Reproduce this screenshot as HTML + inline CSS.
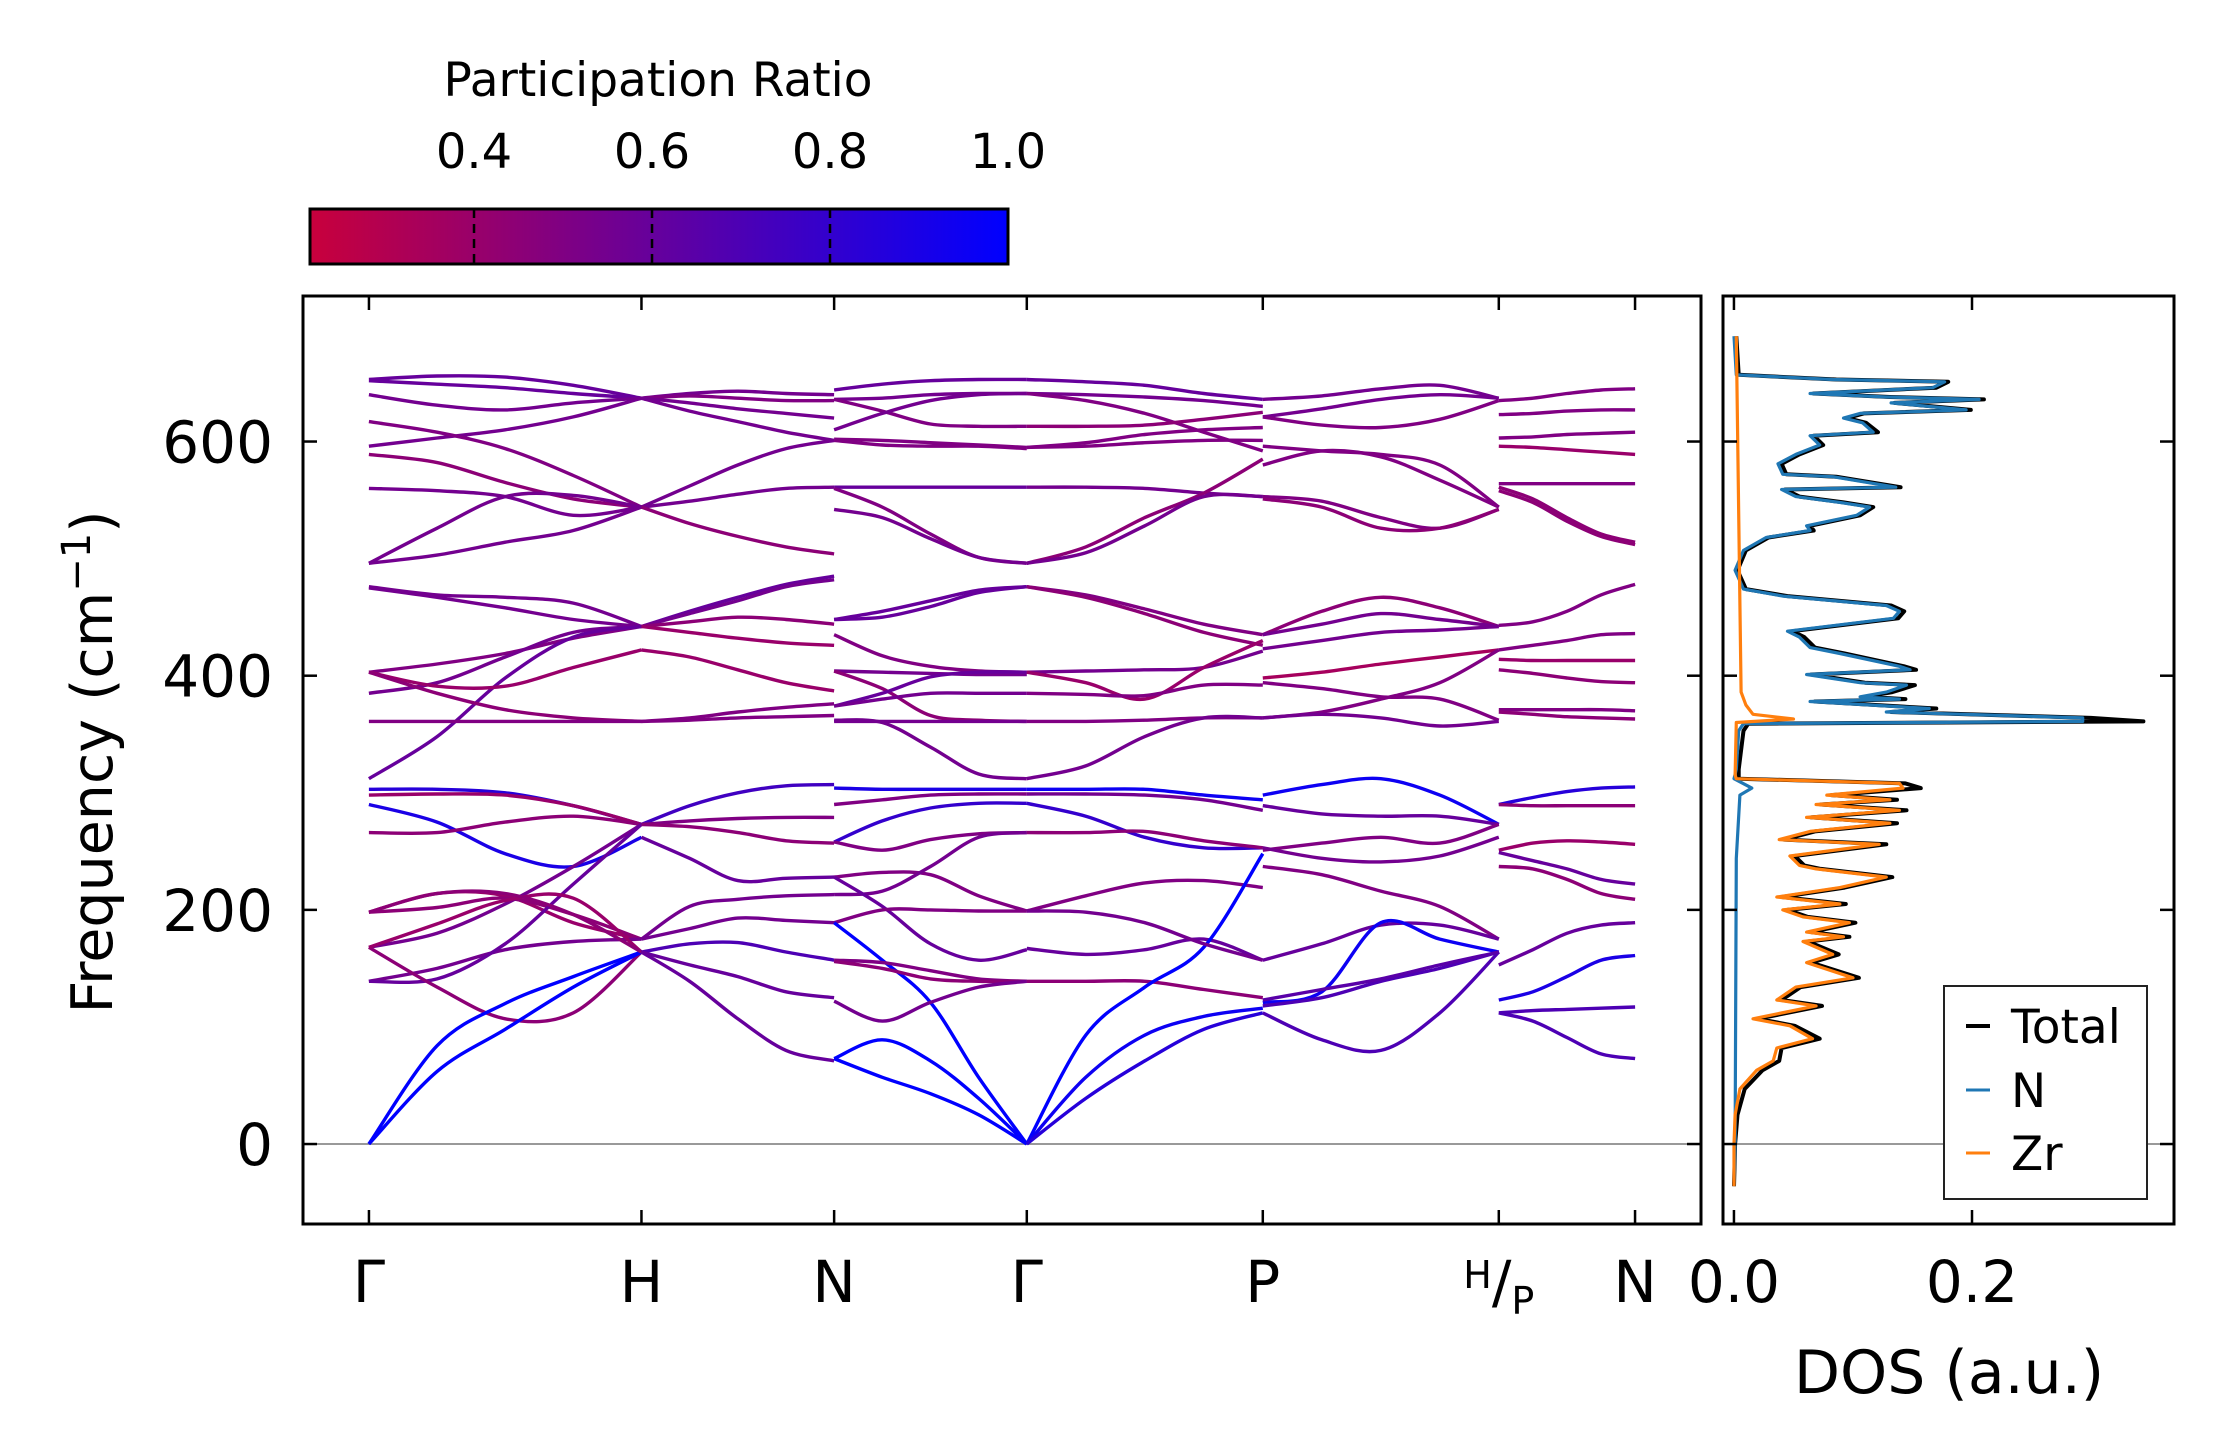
<!DOCTYPE html>
<html><head><meta charset="utf-8">
<style>
html,body{margin:0;padding:0;background:#fff;}
svg{display:block;font-family:"DejaVu Sans","Liberation Sans",sans-serif;}
</style></head>
<body>
<svg id="chart" width="2222" height="1455" viewBox="0 0 2222 1455" xmlns="http://www.w3.org/2000/svg">
  <rect x="0" y="0" width="2222" height="1455" fill="#fff"/>
  <defs>
    <linearGradient id="cbgrad" x1="0" x2="1" y1="0" y2="0">
      <stop offset="0" stop-color="rgb(200,0,60)"/>
      <stop offset="1" stop-color="rgb(0,0,255)"/>
    </linearGradient>
    <clipPath id="mainclip"><rect x="303" y="296" width="1398" height="928"/></clipPath>
    <clipPath id="dosclip"><rect x="1723" y="296" width="451" height="928"/></clipPath>
  </defs>
  <g id="colorbar">
    <text x="658" y="96" font-size="47" text-anchor="middle">Participation Ratio</text>
    <rect x="310" y="209" width="698" height="55" fill="url(#cbgrad)" stroke="#000" stroke-width="3"/>
  </g>
  <g id="bands" clip-path="url(#mainclip)"></g>
  <g id="dos" clip-path="url(#dosclip)"></g>
  <g id="axes"></g>
  <g id="legend">
    <rect x="1944" y="986" width="203" height="213" fill="#fff" stroke="#222" stroke-width="2"/>
    <line x1="1966" y1="1026" x2="1990" y2="1026" stroke="#000" stroke-width="4"/>
    <text x="2011" y="1043" font-size="47">Total</text>
    <line x1="1966" y1="1090" x2="1990" y2="1090" stroke="#1f77b4" stroke-width="3"/>
    <text x="2011" y="1107" font-size="47">N</text>
    <line x1="1966" y1="1153" x2="1990" y2="1153" stroke="#ff7f0e" stroke-width="3"/>
    <text x="2011" y="1170" font-size="47">Zr</text>
  </g>
</svg>
<script>
// ---------- data ----------
const kTicks = [0, 1, 1.707, 2.414, 3.280, 4.146, 4.646];
const kLabels = ["Γ", "H", "N", "Γ", "P", "H/P", "N"];
const yTicks = [0, 200, 400, 600];
const cbTicks = [0.4, 0.6, 0.8, 1.0];
const dosTicks = [0.0, 0.2];
const segRanges = [[0,1],[1,1.707],[1.707,2.414],[2.414,3.280],[3.280,4.146],[4.146,4.646]];
const bandsGH = [
[653,656,655,648,637],[652,649,646,641,637],[640,631,627,633,637],[596,603,610,621,637],
[617,608,594,571,544],[589,582,565,551,544],[560,558,553,537,544],[496,526,553,554,544],
[496,503,514,524,544],[476,469,467,462,442],[475,467,458,448,442],[403,410,419,432,442],
[385,394,416,437,442],[312,348,398,433,442],[403,391,391,407,422],[403,385,371,364,361],
[361,361,361,361,361],[303,303,300,289,273],[298,299,298,289,273],[290,275,248,237,262],
[266,266,275,280,273],[198,214,212,189,175],[198,202,210,196,175],[168,180,205,237,273],
[139,150,166,173,175],[139,141,171,222,273],[168,134,107,112,164],[0,84,120,143,164],
[0,62,98,134,164],[168,188,208,210,164],[198,214,214,196,164]];
const prGH = [0.6,0.6,0.55,0.55,0.5,0.45,0.55,0.55,0.55,0.55,0.55,0.5,0.55,0.6,0.4,0.45,0.5,0.85,0.4,0.9,0.45,0.4,0.45,0.55,0.55,0.6,0.45,1.0,1.0,0.4,0.45];
const bandsHN = [
[637,641,643,641,640],[637,639,637,635,635],[637,633,628,624,620],[637,626,617,608,601],
[544,562,580,594,601],[544,549,555,560,561],[544,530,519,510,504],[442,455,467,478,485],
[442,453,464,476,482],[442,446,450,448,444],[442,437,432,428,426],[422,416,405,394,387],
[361,364,369,373,376],[361,362,364,365,366],[273,289,300,306,307],[273,276,278,279,279],
[273,271,266,259,257],[262,244,225,227,228],[175,203,209,212,213],[175,184,193,191,189],
[164,171,172,164,157],[164,153,143,130,125],[164,139,107,80,71]];
const prHN = [0.55,0.5,0.55,0.55,0.55,0.55,0.45,0.6,0.55,0.45,0.4,0.4,0.5,0.5,0.75,0.5,0.45,0.6,0.55,0.55,0.7,0.6,0.6];
const bandsNG = [
[644,649,652,653,653],[636,637,640,641,641],[636,626,615,613,613],[610,624,635,640,641],
[602,601,599,597,595],[601,597,596,596,594],[561,561,561,561,561],[560,544,521,501,496],
[542,535,517,501,496],[448,455,464,473,476],[448,450,459,471,476],[435,417,408,404,403],
[404,403,402,401,401],[404,389,366,362,361],[374,385,399,403,403],[374,380,385,385,385],
[362,360,339,316,312],[361,361,361,361,361],[304,303,303,303,303],[290,294,298,299,299],
[258,276,287,291,291],[258,251,260,265,266],[228,232,230,212,199],[213,216,237,262,266],
[228,203,171,157,166],[189,200,200,199,199],[189,157,121,57,0],[157,155,148,141,139],
[156,150,141,139,139],[122,105,121,134,139],[73,89,71,39,0],[73,57,43,25,0]];
const prNG = [0.6,0.55,0.5,0.55,0.5,0.5,0.6,0.5,0.55,0.6,0.6,0.5,0.55,0.45,0.6,0.55,0.55,0.55,0.9,0.5,0.8,0.5,0.5,0.55,0.6,0.5,1.0,0.5,0.45,0.55,1.0,1.0];
const bandsGP = [
[653,651,648,641,636],[641,640,638,635,630],[641,635,624,608,592],[613,613,614,619,625],
[595,599,606,610,612],[595,596,599,601,601],[561,561,560,556,553],[496,510,535,556,585],
[496,505,528,553,553],[476,469,457,444,435],[476,467,453,437,426],[403,404,405,407,421],
[403,394,380,407,430],[385,384,383,392,392],[361,361,362,364,364],[312,323,348,364,364],
[303,303,303,298,294],[299,299,298,294,285],[291,280,262,253,253],[266,266,267,259,253],
[199,212,223,225,219],[167,162,166,175,157],[139,139,139,132,125],[0,93,134,168,248],
[0,57,93,109,116],[0,39,71,98,112],[199,198,189,171,157]];
const prGP = [0.6,0.55,0.5,0.45,0.5,0.5,0.55,0.45,0.55,0.5,0.45,0.55,0.4,0.5,0.5,0.55,0.95,0.55,0.8,0.45,0.5,0.6,0.45,1.0,0.95,0.85,0.55];
const bandsPH = [
[636,639,645,648,637],[621,628,636,640,637],[621,614,612,619,635],[596,592,589,580,544],
[580,592,587,567,544],[553,549,535,526,542],[551,544,526,526,542],[435,455,467,458,442],
[435,444,453,448,442],[423,430,437,439,442],[398,403,410,416,422],[394,389,382,380,362],
[364,369,380,394,422],[364,367,364,357,361],[298,307,312,298,273],[289,282,280,280,273],
[251,257,262,257,273],[253,244,241,246,262],[237,230,216,203,175],[157,171,187,187,175],
[121,130,189,175,164],[118,125,139,150,164],[112,89,80,112,164],[123,132,141,153,164]];
const prPH = [0.55,0.55,0.5,0.5,0.5,0.5,0.45,0.45,0.55,0.55,0.35,0.5,0.5,0.55,0.95,0.6,0.5,0.55,0.5,0.6,0.95,0.7,0.7,0.65];
const bandsPN = [
[635,637,641,644,645],[623,624,626,627,627],[603,604,606,607,608],[596,595,593,591,589],
[564,564,564,564,564],[561,551,535,521,514],[558,548,532,519,512],[443,446,455,469,478],
[422,426,430,435,436],[414,413,413,413,413],[405,402,398,395,394],[371,371,371,371,370],
[369,367,365,364,363],[290,296,301,304,305],[290,289,289,289,289],[251,257,259,258,256],
[249,242,235,226,222],[237,235,226,214,209],[153,166,180,187,189],[123,130,143,157,161],
[112,114,115,116,117],[112,105,91,77,73]];
const prPN = [0.5,0.5,0.5,0.4,0.5,0.45,0.45,0.5,0.5,0.4,0.45,0.5,0.45,0.85,0.45,0.4,0.6,0.45,0.6,0.9,0.7,0.7];
const dosNFreq = [-36,0,244,298,304,312,320,353,359,361,364,369,372,378,380,382,386,392,394,401,405,408,419,424,433,438,449,455,460,468,474,490,507,518,524,528,537,544,548,553,559,561,570,572,581,589,597,605,608,616,620,624,627,633,636,638,641,646,651,653,657,690];
const dosNVal  = [0,0.001,0.002,0.005,0.015,0.0,0.002,0.004,0.008,0.293,0.293,0.128,0.164,0.064,0.139,0.106,0.128,0.145,0.106,0.061,0.148,0.139,0.089,0.064,0.055,0.045,0.134,0.139,0.128,0.041,0.008,0.001,0.008,0.027,0.064,0.061,0.103,0.114,0.089,0.052,0.040,0.136,0.083,0.041,0.037,0.052,0.072,0.064,0.117,0.108,0.092,0.106,0.195,0.132,0.206,0.128,0.064,0.167,0.177,0.083,0.002,0.0];
const dosZrFreq = [-36,0,25,47,63,71,82,90,101,107,118,123,134,142,155,162,173,177,181,189,194,200,205,211,219,228,235,238,246,256,260,267,274,279,285,290,294,298,304,308,312,315,360,363,367,375,386,690];
const dosZrVal  = [0,0,0.001,0.005,0.019,0.033,0.036,0.066,0.047,0.016,0.069,0.036,0.052,0.100,0.061,0.083,0.058,0.092,0.061,0.097,0.058,0.041,0.089,0.036,0.089,0.128,0.069,0.055,0.047,0.122,0.038,0.064,0.131,0.061,0.139,0.069,0.131,0.078,0.142,0.139,0.002,0.001,0.002,0.050,0.016,0.010,0.006,0.002];
const dosTotFreq = [-36,0,25,47,63,71,82,90,101,107,118,123,134,142,155,162,173,177,181,189,194,200,205,211,219,228,235,238,246,256,260,267,274,279,285,290,294,298,304,308,312,320,353,359,361,364,369,372,378,380,382,386,392,394,401,405,408,419,424,433,438,449,455,460,468,474,490,507,518,524,528,537,544,548,553,559,561,570,572,581,589,597,605,608,616,620,624,627,633,636,638,641,646,651,653,657,690];
const dosTotVal  = [0,0.001,0.003,0.009,0.024,0.038,0.040,0.072,0.051,0.020,0.074,0.040,0.056,0.105,0.065,0.088,0.062,0.097,0.065,0.102,0.062,0.045,0.094,0.040,0.093,0.133,0.073,0.059,0.051,0.128,0.042,0.068,0.137,0.065,0.145,0.073,0.137,0.082,0.157,0.144,0.004,0.004,0.008,0.012,0.344,0.300,0.132,0.170,0.068,0.144,0.110,0.133,0.152,0.110,0.065,0.153,0.143,0.093,0.068,0.059,0.049,0.138,0.143,0.132,0.045,0.010,0.003,0.010,0.029,0.067,0.064,0.106,0.117,0.092,0.055,0.043,0.140,0.086,0.044,0.040,0.055,0.075,0.067,0.121,0.111,0.095,0.109,0.199,0.135,0.210,0.131,0.067,0.170,0.180,0.086,0.004,0.002];

// ---------- scales ----------
const NS = "http://www.w3.org/2000/svg";
const X0 = 303, X1 = 1701, Y0 = 296, Y1 = 1224;
const kMin = -0.242, kMax = 4.888, fMin = -68.3, fMax = 724.3;
const xK = k => X0 + (k - kMin) / (kMax - kMin) * (X1 - X0);
const yF = f => Y1 - (f - fMin) / (fMax - fMin) * (Y1 - Y0);
const DX0 = 1723, DX1 = 2174, dMin = -0.0092, dMax = 0.3697;
const xD = d => DX0 + (d - dMin) / (dMax - dMin) * (DX1 - DX0);
const cbMin = 0.2157, cbMax = 1.0, CBX0 = 310, CBX1 = 1008;
const xCB = v => CBX0 + (v - cbMin) / (cbMax - cbMin) * (CBX1 - CBX0);
function cmap(v){
  const t = Math.max(0, Math.min(1, (v - cbMin) / (cbMax - cbMin)));
  return `rgb(${Math.round(200*(1-t))},0,${Math.round(60+195*t)})`;
}
function mk(tag, attrs, parent){
  const e = document.createElementNS(NS, tag);
  for (const a in attrs) e.setAttribute(a, attrs[a]);
  parent.appendChild(e);
  return e;
}
function smoothPath(pts){
  let d = `M${pts[0][0].toFixed(1)},${pts[0][1].toFixed(1)}`;
  for (let i = 0; i < pts.length - 1; i++){
    const p0 = pts[Math.max(0,i-1)], p1 = pts[i], p2 = pts[i+1], p3 = pts[Math.min(pts.length-1,i+2)];
    const c1 = [p1[0] + (p2[0]-p0[0])/6, p1[1] + (p2[1]-p0[1])/6];
    const c2 = [p2[0] - (p3[0]-p1[0])/6, p2[1] - (p3[1]-p1[1])/6];
    d += ` C${c1[0].toFixed(1)},${c1[1].toFixed(1)} ${c2[0].toFixed(1)},${c2[1].toFixed(1)} ${p2[0].toFixed(1)},${p2[1].toFixed(1)}`;
  }
  return d;
}
function linePath(xs, ys){
  return xs.map((x,i)=>(i?"L":"M")+x.toFixed(1)+","+ys[i].toFixed(1)).join(" ");
}

// ---------- bands ----------
const gB = document.getElementById("bands");
const allSegs = [bandsGH, bandsHN, bandsNG, bandsGP, bandsPH, bandsPN];
const allPR = [prGH, prHN, prNG, prGP, prPH, prPN];
const zl = mk("line", {x1: X0, x2: X1, y1: yF(0), y2: yF(0), stroke: "#999", "stroke-width": 2}, gB);


allSegs.forEach((seg, si) => {
  const [ka, kb] = segRanges[si];
  seg.forEach((band, bi) => {
    const pts = band.map((f, i) => [xK(ka + (kb - ka) * i / (band.length - 1)), yF(f)]);
    const p = mk("path", {d: smoothPath(pts), fill: "none", stroke: cmap(allPR[si][bi]), "stroke-width": 3.4}, gB);
    
    
  });
});

// ---------- DOS ----------
const gD = document.getElementById("dos");
const zl2 = mk("line", {x1: DX0, x2: DX1, y1: yF(0), y2: yF(0), stroke: "#999", "stroke-width": 2}, gD);


const tot = mk("path", {d: linePath(dosTotVal.map(xD), dosTotFreq.map(yF)), fill: "none", stroke: "#000", "stroke-width": 4, "stroke-linejoin": "round"}, gD);


const nl = mk("path", {d: linePath(dosNVal.map(xD), dosNFreq.map(yF)), fill: "none", stroke: "#1f77b4", "stroke-width": 3.2, "stroke-linejoin": "round"}, gD);


const zr = mk("path", {d: linePath(dosZrVal.map(xD), dosZrFreq.map(yF)), fill: "none", stroke: "#ff7f0e", "stroke-width": 3.2, "stroke-linejoin": "round"}, gD);



// ---------- axes ----------
const gA = document.getElementById("axes");
const frame = mk("rect", {x: X0, y: Y0, width: X1-X0, height: Y1-Y0, fill: "none", stroke: "#000", "stroke-width": 3}, gA);


const frame2 = mk("rect", {x: DX0, y: Y0, width: DX1-DX0, height: Y1-Y0, fill: "none", stroke: "#000", "stroke-width": 3}, gA);


yTicks.forEach(v => {
  const y = yF(v);
  [[X0, X0+14],[X1, X1-14],[DX0, DX0+14],[DX1, DX1-14]].forEach(([a,b]) => {
    const t = mk("line", {x1: a, x2: b, y1: y, y2: y, stroke: "#000", "stroke-width": 2.5}, gA);
    
    
  });
  const lb = mk("text", {x: 273, y: y + 21, "font-size": 58, "text-anchor": "end"}, gA);
  lb.textContent = String(v);
  
  
});
kTicks.forEach((k, i) => {
  const x = xK(k);
  [[Y1, Y1-14],[Y0, Y0+14]].forEach(([a,b]) => {
    const t = mk("line", {x1: x, x2: x, y1: a, y2: b, stroke: "#000", "stroke-width": 2.5}, gA);
    
    
  });
  if (kLabels[i] === "H/P"){
    const g = mk("text", {x: x, y: 1302, "font-size": 58, "text-anchor": "middle"}, gA);
    
    
    const s1 = mk("tspan", {"font-size": 38, dy: -14}, g); s1.textContent = "H";
    const s2 = mk("tspan", {dy: 14}, g); s2.textContent = "/";
    const s3 = mk("tspan", {"font-size": 38, dy: 12}, g); s3.textContent = "P";
  } else {
    const lb = mk("text", {x: x, y: 1302, "font-size": 58, "text-anchor": "middle"}, gA);
    lb.textContent = kLabels[i];
    
    
  }
});
dosTicks.forEach(v => {
  const x = xD(v);
  [[Y1, Y1-14],[Y0, Y0+14]].forEach(([a,b]) => {
    const t = mk("line", {x1: x, x2: x, y1: a, y2: b, stroke: "#000", "stroke-width": 2.5}, gA);
    
    
  });
  const lb = mk("text", {x: x, y: 1302, "font-size": 58, "text-anchor": "middle"}, gA);
  lb.textContent = v.toFixed(1);
  
  
});
const ylab = mk("text", {x: 0, y: 0, "font-size": 57, "text-anchor": "middle", transform: "translate(112,762) rotate(-90)"}, gA);


ylab.textContent = "Frequency (cm";
const sup = mk("tspan", {"font-size": 40, dy: -22}, ylab); sup.textContent = "−1";
const cl = mk("tspan", {dy: 22}, ylab); cl.textContent = ")";
const xlab = mk("text", {x: 1949, y: 1393, "font-size": 60, "text-anchor": "middle"}, gA);
xlab.textContent = "DOS (a.u.)";



// ---------- colorbar ticks ----------
const gC = document.getElementById("colorbar");
cbTicks.forEach(v => {
  const x = xCB(v);
  if (v < 0.99){
    const t = mk("line", {x1: x, x2: x, y1: 209, y2: 264, stroke: "#000", "stroke-width": 2.5, "stroke-dasharray": "9,6"}, gC);
    
    
  }
  const lb = mk("text", {x: x, y: 168, "font-size": 48, "text-anchor": "middle"}, gC);
  lb.textContent = v.toFixed(1);
  
  
});
</script>
</body></html>
